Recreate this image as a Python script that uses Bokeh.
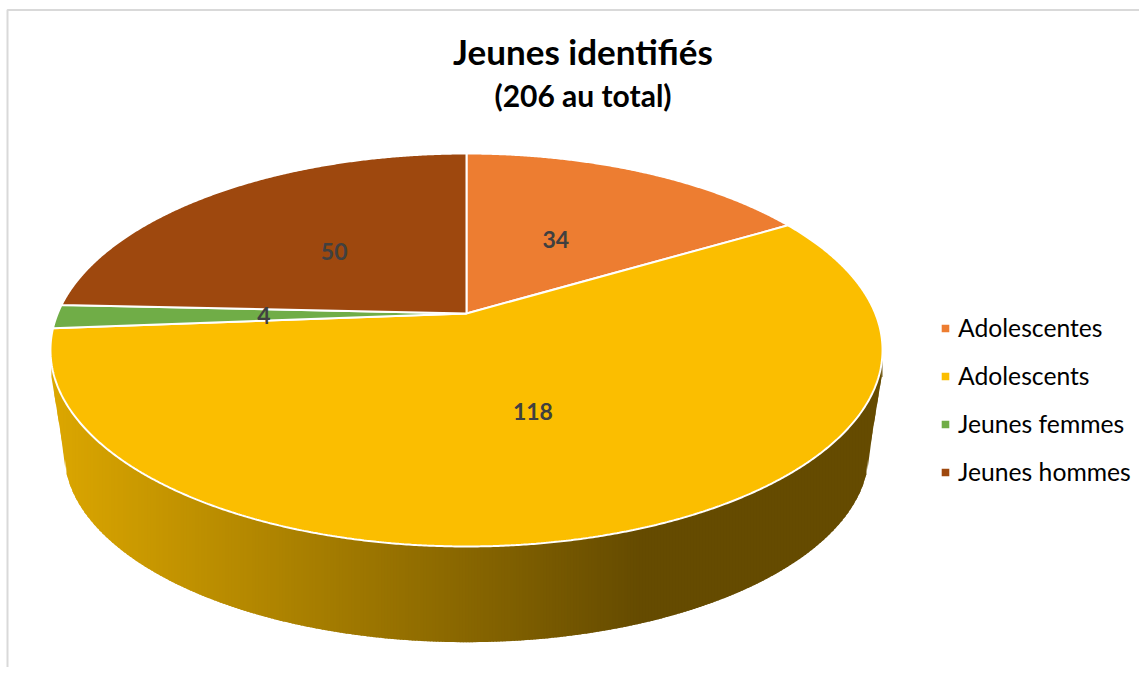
import math
import numpy as np
from bokeh.plotting import figure
from bokeh.models import Range1d, Legend, LegendItem, ColumnDataSource
from bokeh.core.properties import value
from bokeh.embed import file_html
from bokeh.resources import INLINE

# --- data ---
title_main = "Jeunes identifiés"
title_sub = "(206 au total)"
categories = ["Adolescentes", "Adolescents", "Jeunes femmes", "Jeunes hommes"]
values = [34, 118, 4, 50]
colors = ["#ED7D31", "#FBBE00", "#70AD47", "#9E480E"]

# --- geometry of the tilted disc ---
CX, CY = 466.0, 313.0        # picture of the disc's centre
TILT = 0.1857                # perspective strength
AX, AY = 408.8, 189.7        # scale of the disc
LABEL_R = 0.48               # data-label radius, share of disc radius
DROP = 102.0                 # thickness of the pie
SHRINK = 0.968               # lower rim is a little smaller
LABEL_NUDGE_X = [-1, 2, -6, -5]
LABEL_NUDGE_Y = [-1, 3, 1, 0]


def project(theta, r=1.0):
    """Clockwise angle from 12 o'clock on the disc -> picture coordinates."""
    u, v = r * np.sin(theta), r * np.cos(theta)
    d = 1 + TILT * v
    return CX + AX * u / d, CY - AY * v / d


p = figure(width=1139, height=667, x_range=Range1d(0, 1139), y_range=Range1d(667, 0),
           output_backend="svg", toolbar_location=None, min_border=0,
           outline_line_color=None,
           background_fill_color="white", border_fill_color="white")
p.axis.visible = False
p.grid.visible = False

# chart-area border
p.line([7, 7, 1139], [667, 9.5, 9.5], line_color="#D9D9D9", line_width=2)

# --- pie side, as thin vertical strips shaded left to right ---
th = np.linspace(math.pi / 2, 3 * math.pi / 2, 721)
rim_x, rim_y = project(th)
order = np.argsort(rim_x)
rim_x, rim_y = rim_x[order], rim_y[order]
EY = (153 + 546) / 2.0       # middle of the top ellipse
low_x = CX + (rim_x - CX) * SHRINK
low_y = EY + DROP + (rim_y - EY) * SHRINK
x_left, x_right = rim_x.min(), rim_x.max()
keep = rim_y >= EY
lx = np.concatenate([[x_left + 1], low_x[keep], [x_right - 1]])
ly = np.concatenate([[EY + 27], low_y[keep], [EY + 27]])
tx = rim_x[keep]
ty = rim_y[keep]

edges = np.arange(x_left + 1, x_right, 3.0)
edges = np.append(edges, x_right - 1)
c0 = np.array([0xDC, 0xA7, 0x00])
c1 = np.array([0x65, 0x4B, 0x00])
strip_x, strip_y, strip_c = [], [], []
for a, b in zip(edges[:-1], edges[1:]):
    # overlap the next strip; later strips paint over, leaving no seams
    b2 = min(b + 2.0, edges[-1])
    ya0, ya1 = np.interp(a, tx, ty), np.interp(b2, tx, ty)
    yb0, yb1 = np.interp(a, lx, ly), np.interp(b2, lx, ly)
    f = min(1.0, (0.5 * (a + b) - x_left) / 590.0)
    c = c0 + (c1 - c0) * f
    strip_x.append([a, b2, b2, a])
    strip_y.append([ya0 - 3, ya1 - 3, yb1, yb0])
    strip_c.append("#%02X%02X%02X" % tuple(int(round(q)) for q in c))
p.patches(strip_x, strip_y, fill_color=strip_c, line_color=None)

# --- top face ---
total = sum(values)
start = 0.0
mids = []
items = []
for name, val, col in zip(categories, values, colors):
    end = start + 2 * math.pi * val / total
    t = np.linspace(start, end, max(8, int(val * 6)))
    xs, ys = project(t)
    r = p.patch(np.r_[CX, xs, CX], np.r_[CY, ys, CY], fill_color=col,
                line_color="white", line_width=2)
    items.append(LegendItem(label=name, renderers=[r]))
    mids.append(0.5 * (start + end))
    start = end

# --- data labels ---
lab_x, lab_y = project(np.array(mids), LABEL_R)
lab_x = lab_x + np.array(LABEL_NUDGE_X)
lab_y = lab_y + np.array(LABEL_NUDGE_Y)
src = ColumnDataSource(dict(x=lab_x, y=lab_y, t=[str(v) for v in values]))
p.text("x", "y", text="t", source=src, text_font=value("Lato"), text_font_style="bold",
       text_font_size="23px", text_color="#404040", text_align="center",
       text_baseline="middle")

# --- titles ---
p.text([582.5], [50], text=[title_main], text_font=value("Lato"), text_font_style="bold",
       text_font_size="35px", text_color="#000000", text_align="center", text_baseline="middle")
p.text([582.5], [94], text=[title_sub], text_font=value("Lato"), text_font_style="bold",
       text_font_size="30px", text_color="#000000", text_align="center", text_baseline="middle")

# --- legend ---
leg = Legend(items=items, location=(939, 181), orientation="vertical",
             glyph_width=12, glyph_height=12, label_standoff=7,
             label_text_font="Lato", label_text_font_size="24.7px", label_text_color="#000000",
             label_height=24, spacing=19, padding=0, margin=0,
             border_line_color=None, background_fill_alpha=0)
p.add_layout(leg, "center")

open("out.html", "w").write(file_html(p, INLINE))
